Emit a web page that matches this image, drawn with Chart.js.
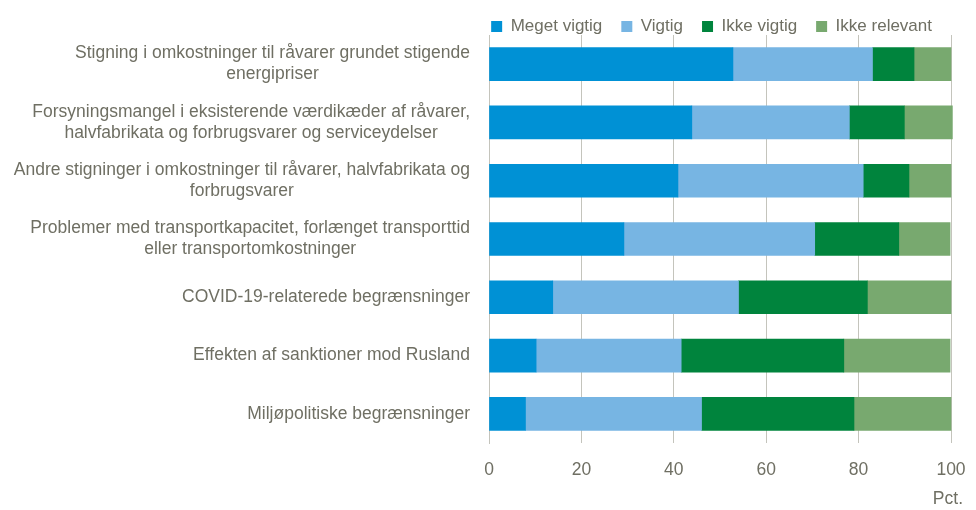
<!DOCTYPE html>
<html>
<head>
<meta charset="utf-8">
<script src="https://cdn.jsdelivr.net/npm/chart.js@4"></script>
<style>
  body { margin: 0; background: #fff; }
  #wrap { width: 976px; height: 510px; position: relative; }
</style>
</head>
<body>
<div id="wrap"><canvas id="chart"></canvas></div>
<script>
/* ================= DATA ================= */

const categories = [
  ["Stigning i omkostninger til råvarer grundet stigende", "energipriser"],
  ["Forsyningsmangel i eksisterende værdikæder af råvarer,", "halvfabrikata og forbrugsvarer og serviceydelser"],
  ["Andre stigninger i omkostninger til råvarer, halvfabrikata og", "forbrugsvarer"],
  ["Problemer med transportkapacitet, forlænget transporttid", "eller transportomkostninger"],
  "COVID-19-relaterede begrænsninger",
  "Effekten af sanktioner mod Rusland",
  "Miljøpolitiske begrænsninger"
];

const megetVigtig = [52.8, 43.9, 40.9, 29.2, 13.8, 10.2, 7.9];
const vigtig = [30.2, 34.1, 40.1, 41.3, 40.2, 31.4, 38.1];
const ikkeVigtig = [9.0, 11.9, 9.9, 18.2, 27.9, 35.2, 33.0];
const ikkeRelevant = [8.0, 10.4, 9.1, 11.1, 18.1, 23.0, 21.0];

const seriesNames = ["Meget vigtig", "Vigtig", "Ikke vigtig", "Ikke relevant"];
const xTicks = [0, 20, 40, 60, 80, 100];
const unitLabel = "Pct.";

/* ================= CHART ================= */

const textColor = "#6f6f63";
const gridColor = "#c4c4bc";
const colors = ["#0091d5", "#77b5e3", "#00843d", "#78a96f"];
const fontFamily = "Liberation Sans, Arial, sans-serif";

const ctx = document.getElementById("chart").getContext("2d");

const seriesData = [megetVigtig, vigtig, ikkeVigtig, ikkeRelevant];

// shrink the legend box so the plot starts close under it
const legendHeight = {
  id: "legendHeight",
  beforeInit(chart) {
    const fit = chart.legend.fit;
    chart.legend.fit = function () {
      fit.bind(chart.legend)();
      this.height = 36;
    };
  }
};

// category labels: right aligned blocks, lines centered inside each block
const categoryLabels = {
  id: "categoryLabels",
  afterDraw(chart) {
    const c = chart.ctx;
    const y = chart.scales.y;
    const right = chart.chartArea.left - 19;
    const lineHeight = 21;
    c.save();
    c.fillStyle = textColor;
    c.font = "17.5px " + fontFamily;
    c.textAlign = "center";
    c.textBaseline = "middle";
    chart.data.labels.forEach((label, i) => {
      const lines = Array.isArray(label) ? label : [label];
      const blockWidth = Math.max(...lines.map((l) => c.measureText(l).width));
      const cx = right - blockWidth / 2;
      const cy = y.getPixelForTick(i);
      const y0 = cy - ((lines.length - 1) * lineHeight) / 2;
      lines.forEach((l, k) => c.fillText(l, cx, y0 + k * lineHeight));
    });
    c.restore();
  }
};

// unit text under the right end of the x axis
const unitText = {
  id: "unitText",
  afterDraw(chart) {
    const c = chart.ctx;
    c.save();
    c.fillStyle = textColor;
    c.font = "17.5px " + fontFamily;
    c.textAlign = "right";
    c.textBaseline = "middle";
    c.fillText(unitLabel, chart.chartArea.right + 12, 499);
    c.restore();
  }
};

new Chart(ctx, {
  type: "bar",
  data: {
    labels: categories,
    datasets: seriesData.map((d, i) => ({
      label: seriesNames[i],
      data: d,
      backgroundColor: colors[i],
      borderWidth: 0,
      barThickness: 33,
      clip: false
    }))
  },
  options: {
    indexAxis: "y",
    responsive: true,
    maintainAspectRatio: false,
    animation: false,
    layout: {
      padding: { left: 0, right: 25, top: -1, bottom: 12 }
    },
    plugins: {
      legend: {
        position: "top",
        align: "end",
        labels: {
          boxWidth: 11,
          boxHeight: 11,
          padding: 19,
          color: textColor,
          font: { family: fontFamily, size: 17 }
        }
      },
      tooltip: { enabled: false }
    },
    scales: {
      x: {
        stacked: true,
        min: 0,
        max: 100,
        afterBuildTicks: (axis) => {
          axis.ticks = xTicks.map((v) => ({ value: v }));
        },
        afterFit: (axis) => {
          axis.paddingRight = 0;
          axis.paddingLeft = 0;
        },
        grid: {
          color: gridColor,
          drawTicks: false
        },
        border: { display: false },
        ticks: {
          color: textColor,
          padding: 17,
          font: { family: fontFamily, size: 17.5 }
        }
      },
      y: {
        stacked: true,
        afterFit: (axis) => {
          axis.width = 489;
        },
        grid: { display: false, drawTicks: false },
        border: { color: gridColor },
        ticks: { display: false }
      }
    }
  },
  plugins: [legendHeight, categoryLabels, unitText]
});
</script>
</body>
</html>
